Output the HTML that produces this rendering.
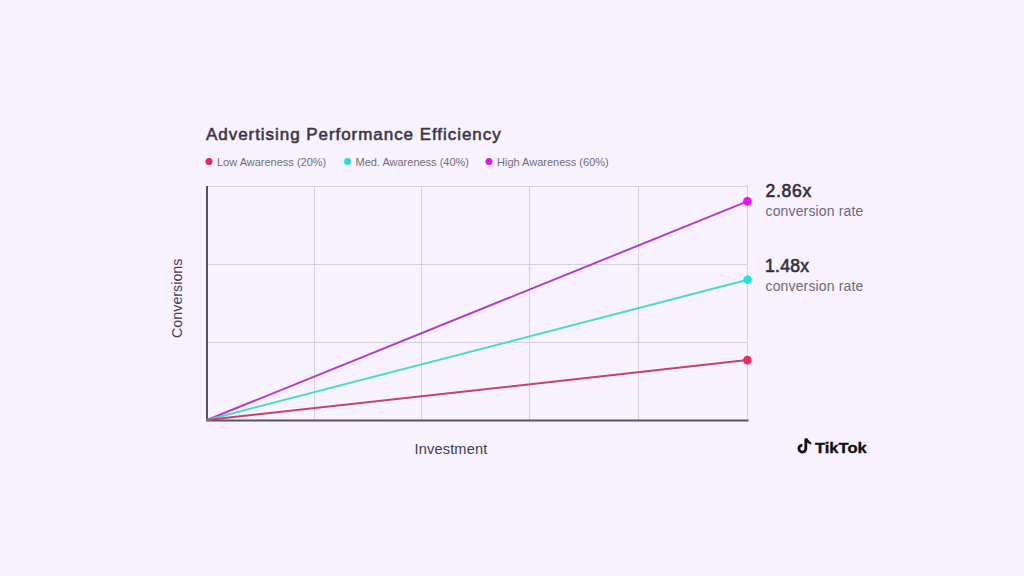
<!DOCTYPE html>
<html><head><meta charset="utf-8">
<style>
html,body{margin:0;padding:0;}
body{width:1024px;height:576px;background:#F7F2FD;position:relative;overflow:hidden;font-family:"Liberation Sans",sans-serif;}
.t{position:absolute;white-space:nowrap;line-height:1;}
svg{position:absolute;left:0;top:0;}
</style></head><body>
<svg width="1024" height="576" viewBox="0 0 1024 576">
  <g stroke="#D6D0DD" stroke-width="1" fill="none">
    <line x1="206" y1="186.5" x2="747.5" y2="186.5"/>
    <line x1="206" y1="264.5" x2="747.5" y2="264.5"/>
    <line x1="206" y1="342.5" x2="747.5" y2="342.5"/>
    <line x1="314.5" y1="186" x2="314.5" y2="420"/>
    <line x1="421.5" y1="186" x2="421.5" y2="420"/>
    <line x1="529.5" y1="186" x2="529.5" y2="420"/>
    <line x1="638.5" y1="186" x2="638.5" y2="420"/>
    <line x1="747.5" y1="186" x2="747.5" y2="420"/>
  </g>
  <g stroke="#58525F" stroke-width="2" fill="none">
    <line x1="207" y1="186" x2="207" y2="421"/>
    <line x1="206" y1="420.5" x2="748.5" y2="420.5"/>
  </g>
  <g stroke-width="2" fill="none" stroke-linecap="round">
    <line x1="207" y1="420" x2="747.4" y2="201.4" stroke="#B63BC8"/>
    <line x1="207" y1="420" x2="747.6" y2="279.8" stroke="#4DD7CD"/>
    <line x1="207" y1="420" x2="747.4" y2="360.1" stroke="#C0446B"/>
  </g>
  <circle cx="747.4" cy="360.1" r="4.3" fill="#EE2A5C"/>
  <circle cx="747.6" cy="279.8" r="4.3" fill="#1EE3D8"/>
  <circle cx="747.4" cy="201.4" r="4.3" fill="#EE10F0"/>
  <circle cx="209" cy="161.6" r="3.5" fill="#E0285A"/>
  <circle cx="347.6" cy="161.6" r="3.5" fill="#2ADCD4"/>
  <circle cx="489" cy="161.4" r="3.5" fill="#D81CDC"/>
  <g fill="none" stroke-width="2.7" opacity="0.22">
    <path transform="translate(-0.5,-0.5)" stroke="#25F4EE" d="M802.3 445.2 A3.45 3.45 0 1 0 805.8 448.6 L805.8 439.2"/>
    <path transform="translate(0.5,0.5)" stroke="#FE2C55" d="M802.3 445.2 A3.45 3.45 0 1 0 805.8 448.6 L805.8 439.2"/>
  </g>
  <g fill="none" stroke="#111" stroke-width="2.7">
    <path d="M802.3 445.2 A3.45 3.45 0 1 0 805.8 448.6 L805.8 439.2"/>
  </g>
  <path d="M804.5 438.2 L807.2 438.2 Q808.6 441 811.3 442.2 L811.3 444.5 Q808.8 444 807 442.6 Z" fill="#111"/>
</svg>
<div class="t" id="title" style="left:206px;top:125.5px;font-size:17px;letter-spacing:0.95px;font-weight:400;-webkit-text-stroke:0.55px #3B3547;color:#3B3547;">Advertising Performance Efficiency</div>
<div class="t" id="lg1" style="left:217px;top:157px;font-size:11px;color:#736D7B;">Low Awareness (20%)</div>
<div class="t" id="lg2" style="left:355.5px;top:157px;font-size:11px;color:#736D7B;">Med. Awareness (40%)</div>
<div class="t" id="lg3" style="left:497px;top:157px;font-size:11px;color:#736D7B;">High Awareness (60%)</div>
<div class="t" id="v1" style="left:765.5px;top:182.8px;font-size:17.6px;letter-spacing:0.7px;font-weight:400;-webkit-text-stroke:0.6px #33303E;color:#33303E;">2.86x</div>
<div class="t" id="c1" style="left:765.5px;top:204px;font-size:14px;letter-spacing:0.15px;color:#6E6877;">conversion rate</div>
<div class="t" id="v2" style="left:765px;top:257.8px;font-size:17.6px;letter-spacing:0.25px;font-weight:400;-webkit-text-stroke:0.6px #33303E;color:#33303E;">1.48x</div>
<div class="t" id="c2" style="left:765.5px;top:279px;font-size:14px;letter-spacing:0.15px;color:#6E6877;">conversion rate</div>
<div class="t" id="inv" style="left:414.5px;top:442px;font-size:14.6px;letter-spacing:0.15px;color:#443E4E;">Investment</div>
<div class="t" id="conv" style="left:169.5px;top:338px;font-size:14.3px;color:#443E4E;transform-origin:0 0;transform:rotate(-90deg);">Conversions</div>
<div class="t" id="tt" style="left:815px;top:440px;font-size:15px;font-weight:700;color:#111;-webkit-text-stroke:0.35px #111;transform-origin:0 0;transform:scaleX(1.1);">TikTok</div>
</body></html>
